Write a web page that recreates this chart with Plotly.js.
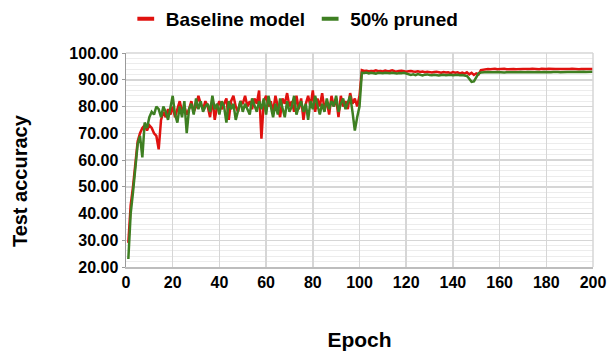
<!DOCTYPE html>
<html>
<head>
<meta charset="utf-8">
<script src="https://cdn.plot.ly/plotly-3.0.1.min.js"></script>
<style>html,body{margin:0;padding:0;background:#fff}#chart{width:609px;height:351px}</style>
</head>
<body>
<div id="chart"></div>
<script>
const epochs = Array.from({length: 200}, (_, i) => i + 1);

const baselineEarly = [
  29, 43, 50, 60, 67, 70, 72, 73, 71, 73,
  72, 70, 69, 64, 75, 78, 76, 79, 77, 80,
  76, 79, 82, 78, 80, 77, 79, 82, 78, 80,
  84, 81, 79, 82, 80, 76, 83, 75, 80, 82,
  79, 81, 83, 75, 82, 84, 80, 78, 82, 81,
  84, 80, 82, 79, 83, 81, 86, 68, 82, 84,
  80, 82, 78, 84, 80, 76, 83, 81, 85, 80,
  82, 78, 84, 79, 83, 75, 81, 84, 80, 86,
  78, 83, 80, 85, 79, 82, 77, 84, 80, 83,
  76, 84, 80, 82, 79, 85, 81, 83, 80, 84
];
const baselineLate = [
  93.6, 93.3, 93.4, 93.1, 93.3, 93.2, 93.5, 93.2, 93.3, 93.1,
  93.4, 93.2, 93.3, 93.5, 93.2, 93.1, 93.3, 93.4, 93.2, 93.0,
  93.2, 93.3, 93.1, 93.0, 93.2, 92.9, 93.1, 92.8, 93.0, 92.9,
  92.7, 92.9, 93.0, 92.8, 92.6, 92.9, 92.7, 92.8, 92.5, 92.9,
  92.6, 92.8, 92.4, 92.7, 92.3, 92.8, 92.0, 92.6, 91.8, 92.4,
  92.0, 93.6, 93.8, 93.9, 94.0, 93.9, 94.0, 94.1, 93.9, 94.0,
  94.0, 94.1, 93.9, 94.0, 94.1, 94.0, 93.9, 94.0, 94.1, 94.0,
  94.0, 93.9, 94.0, 94.1, 94.0, 94.0, 93.9, 94.1, 94.0, 94.0,
  94.1, 94.0, 93.9, 94.0, 94.0, 94.1, 94.0, 94.0, 93.9, 94.0,
  94.1, 94.0, 94.0, 93.9, 94.0, 94.1, 94.0, 94.0, 94.0, 94.0
];

const prunedEarly = [
  23, 40, 48, 58, 66, 69, 61, 74, 72, 76,
  78, 77, 80, 79, 76, 80, 78, 75, 80, 84,
  77, 74, 80, 76, 82, 70, 79, 81, 77, 83,
  79, 82, 78, 80, 81, 78, 84, 79, 81, 77,
  82, 80, 74, 82, 79, 81, 75, 78, 82, 78,
  81, 79, 77, 83, 80, 78, 82, 79, 83, 77,
  84, 80, 76, 81, 77, 83, 79, 76, 82, 78,
  80, 84, 77, 80, 82, 78, 81, 75, 82, 79,
  84, 80, 77, 81, 78, 83, 79, 82, 80, 84,
  78, 81, 83, 79, 82, 84, 78, 71, 76, 80
];
const prunedLate = [
  92.6, 92.5, 92.7, 92.4, 92.6, 92.5, 92.3, 92.6, 92.5, 92.4,
  92.6, 92.5, 92.4, 92.6, 92.5, 92.3, 92.5, 92.4, 92.6, 92.4,
  92.2, 91.8, 92.0, 91.7, 92.1, 91.9, 91.6, 91.9, 92.0, 91.8,
  91.7, 91.9, 91.8, 91.6, 91.8, 91.9, 91.7, 91.8, 91.9, 91.7,
  91.8, 91.9, 91.7, 91.8, 91.6, 91.4, 90.4, 89.2, 89.4, 90.8,
  92.4, 92.7, 92.8, 92.8, 92.9, 92.8, 92.7, 92.8, 92.9, 92.8,
  92.8, 92.7, 92.8, 92.9, 92.8, 92.8, 92.7, 92.8, 92.9, 92.8,
  92.8, 92.9, 92.8, 92.7, 92.8, 92.9, 92.8, 92.8, 92.9, 92.8,
  92.9, 92.8, 92.9, 93.0, 92.9, 92.8, 92.9, 93.0, 92.9, 92.9,
  93.0, 92.9, 92.9, 93.0, 92.9, 93.0, 92.9, 93.0, 92.9, 93.0
];

const baseline = baselineEarly.concat(baselineLate);
const pruned = prunedEarly.concat(prunedLate);

const seriesNames = ['Baseline model', '50% pruned'];
const seriesColors = ['#e0120f', '#3e7f22'];
const xTickVals = [0, 20, 40, 60, 80, 100, 120, 140, 160, 180, 200];
const yTickVals = [20, 30, 40, 50, 60, 70, 80, 90, 100];

const font = 'Liberation Sans, Arial, sans-serif';

const traces = [
  {x: epochs, y: baseline, mode: 'lines', line: {color: seriesColors[0], width: 2.5}, showlegend: false, hoverinfo: 'skip'},
  {x: epochs, y: pruned, mode: 'lines', line: {color: seriesColors[1], width: 2.5}, showlegend: false, hoverinfo: 'skip'},
  {x: [null], y: [null], mode: 'markers', name: '<b>' + seriesNames[0] + '</b>',
   marker: {symbol: 'line-ew', size: 12, line: {width: 4, color: seriesColors[0]}}},
  {x: [null], y: [null], mode: 'markers', name: '<b>' + seriesNames[1] + '</b>',
   marker: {symbol: 'line-ew', size: 12, line: {width: 4, color: seriesColors[1]}}}
];

const layout = {
  width: 609, height: 351,
  margin: {l: 126, r: 16, t: 53, b: 84},
  paper_bgcolor: '#ffffff', plot_bgcolor: '#ffffff',
  font: {family: font, color: '#000'},
  showlegend: true,
  legend: {orientation: 'h', x: 0.484, xref: 'container', xanchor: 'center', y: 1.0, yref: 'container', yanchor: 'top',
           font: {size: 19, family: font, color: '#000'}, itemwidth: 30, tracegroupgap: 0},
  xaxis: {
    range: [0, 200], tickvals: xTickVals, ticktext: xTickVals.map(v => '<b>' + v + '</b>'),
    tickfont: {size: 16, family: font, color: '#000'},
    showgrid: true, gridcolor: '#d6d6d6', gridwidth: 1.5,
    zeroline: false, showline: true, linecolor: '#bdbdbd', linewidth: 1.5, mirror: false,
    ticks: '', ticklen: 0,
    title: {text: '<b>Epoch</b>', font: {size: 21, family: font, color: '#000'}, standoff: 42},
    automargin: false, fixedrange: true
  },
  yaxis: {
    range: [20, 100], tickvals: yTickVals, ticktext: yTickVals.map(v => '<b>' + v.toFixed(2) + '</b>'),
    tickfont: {size: 16, family: font, color: '#000'},
    showgrid: true, gridcolor: '#d6d6d6', gridwidth: 1.5,
    minor: {dtick: 2, showgrid: true, gridcolor: '#ececec', gridwidth: 1, ticks: ''},
    zeroline: false, showline: true, linecolor: '#9a9a9a', linewidth: 1.5,
    ticks: 'outside', ticklen: 3, tickcolor: '#9a9a9a',
    automargin: false, fixedrange: true
  },
  annotations: [
    {text: '<b>Test accuracy</b>', xref: 'paper', yref: 'paper', x: -0.227, y: 0.406,
     xanchor: 'center', yanchor: 'middle', textangle: -90, showarrow: false,
     font: {size: 20, family: font, color: '#000'}}
  ],
  shapes: [
    {type: 'line', xref: 'paper', yref: 'paper', x0: 0, x1: 1, y0: 1, y1: 1, line: {color: '#d6d6d6', width: 1.5}},
    {type: 'line', xref: 'paper', yref: 'paper', x0: 1, x1: 1, y0: 0, y1: 1, line: {color: '#d6d6d6', width: 1.5}}
  ]
};

Plotly.newPlot('chart', traces, layout, {staticPlot: true, displayModeBar: false});
</script>
</body>
</html>
